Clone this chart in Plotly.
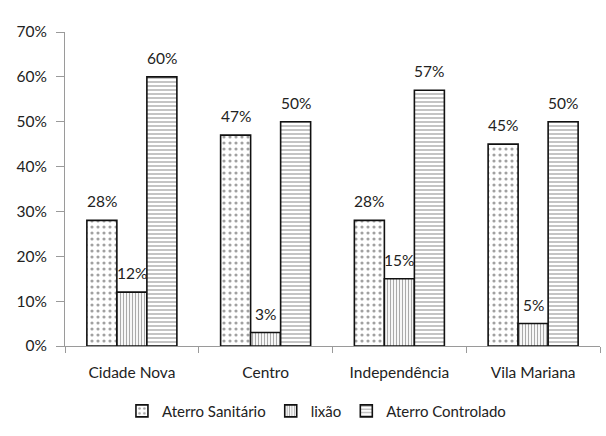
import plotly.graph_objects as go

categories = ["Cidade Nova", "Centro", "Independência", "Vila Mariana"]
aterro_sanitario = [0.28, 0.47, 0.28, 0.45]
lixao = [0.12, 0.03, 0.15, 0.05]
aterro_controlado = [0.60, 0.50, 0.57, 0.50]
series_names = ["Aterro Sanitário", "lixão", "Aterro Controlado"]
y_ticks = [0, 0.1, 0.2, 0.3, 0.4, 0.5, 0.6, 0.7]

font_family = "Lato, Open Sans, sans-serif"
W, H = 606, 436
ML, MR, MT, MB = 65, 6, 32, 90
BARGAP = 0.327

patterns = [
    dict(shape=".", fgcolor="#444444", bgcolor="white", size=6, solidity=0.22),
    dict(shape="|", fgcolor="#555555", bgcolor="white", size=3, solidity=0.4),
    dict(shape="-", fgcolor="#555555", bgcolor="white", size=4, solidity=0.35),
]

fig = go.Figure()
series = [aterro_sanitario, lixao, aterro_controlado]
for name, vals, pat in zip(series_names, series, patterns):
    fig.add_trace(go.Bar(
        x=categories, y=vals, name=name,
        marker=dict(color="white", pattern=pat, line=dict(color="#111111", width=1.6)),
    ))

# data labels above bars
cat_w = (W - ML - MR) / len(categories)
bar_w = cat_w * (1 - BARGAP) / len(series)
annotations = []
for i, vals in enumerate(series):
    for c, v in zip(categories, vals):
        annotations.append(dict(
            x=c, y=v, xref="x", yref="y", text=f"{round(v*100)}%",
            showarrow=False, yanchor="bottom", xanchor="center",
            xshift=(i - 1) * bar_w, yshift=8,
            font=dict(size=15.5, color="#222222", family=font_family),
        ))

fig.update_layout(
    width=W, height=H,
    margin=dict(l=ML, r=MR, t=MT, b=MB, autoexpand=False),
    paper_bgcolor="white", plot_bgcolor="white",
    barmode="group", bargap=BARGAP, bargroupgap=0,
    font=dict(family=font_family, size=15, color="#222222"),
    showlegend=True,
    legend=dict(orientation="h", x=0.47, xanchor="center", y=-0.155, yanchor="top",
                font=dict(size=15, family=font_family, color="#222222"), itemwidth=30,
                tracegroupgap=0),
    annotations=annotations,
)
fig.update_yaxes(
    range=[0, 0.7], tickvals=y_ticks, tickformat=".0%",
    showgrid=False, showline=True, linecolor="#9a9a9a", linewidth=1,
    ticks="outside", ticklen=8, tickcolor="#9a9a9a", ticklabelstandoff=6,
    tickfont=dict(size=15.5, family=font_family, color="#222222"), zeroline=False,
)
fig.update_xaxes(
    showgrid=False, showline=True, linecolor="#9a9a9a", linewidth=1,
    ticks="outside", ticklen=6, tickcolor="#9a9a9a", tickson="boundaries",
    ticklabelstandoff=12,
    tickfont=dict(size=15.5, family=font_family, color="#222222"),
)
fig.write_html("out.html", config={"displayModeBar": False},
               post_script="document.body.style.margin='0';")
